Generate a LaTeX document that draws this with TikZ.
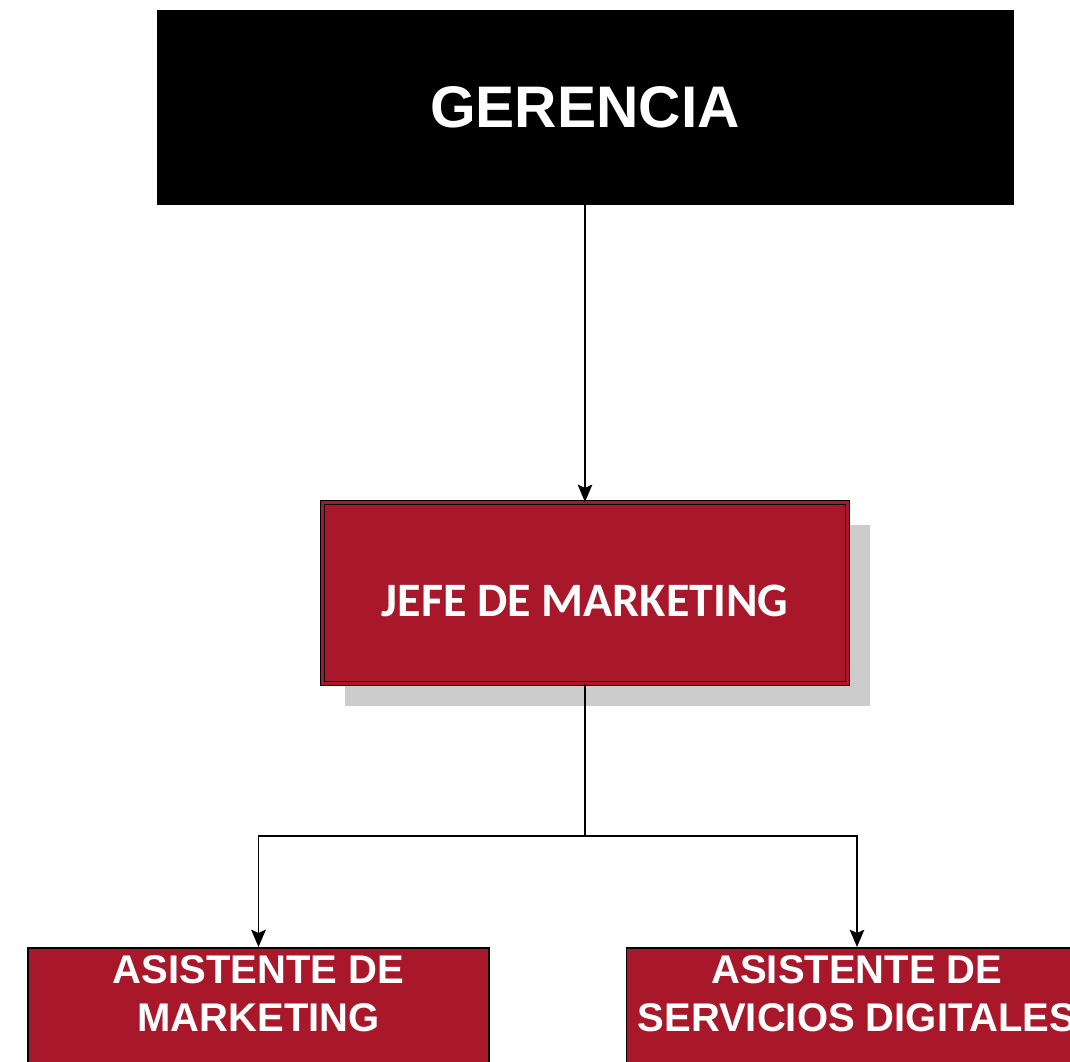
\documentclass[tikz,border=0pt]{standalone}
\usepackage{fontspec}
\setmainfont{Liberation Sans}
\newfontfamily\carlito{Carlito}
\usetikzlibrary{arrows.meta,shadows}
\definecolor{cargo}{HTML}{A8182A}
\tikzstyle{topbox}=[rectangle, fill=black, draw=black
,minimum width=642pt, minimum height=145.5pt
,inner sep=0pt, text=white, font=\bfseries\fontsize{44}{50}\selectfont
]
\tikzstyle{jefebox}=[rectangle, fill=cargo, draw=black, double=cargo
,double distance=2.6pt, line width=0.9pt
,minimum width=393.75pt, minimum height=135.75pt, inner sep=0pt
,drop shadow={shadow xshift=16.5pt, shadow yshift=-16.5pt, fill=black!20, opacity=1}
]
\tikzstyle{asisbox}=[rectangle, fill=cargo, draw=black, line width=1.3pt
,minimum width=345.75pt, minimum height=120pt, inner sep=0pt, anchor=north
]
\tikzstyle{asistext}=[anchor=north, align=center, text=white, inner sep=0pt
,font=\bfseries\fontsize{30}{36}\selectfont
]
\tikzstyle{edge} = [draw, line width=1.2pt, -{Stealth[length=13pt, width=11pt, inset=2.5pt]}]
\tikzstyle{link} = [draw, line width=1.2pt, -]

\begin{document}
\begin{tikzpicture}[x=0.75pt, y=-0.75pt]
    \useasboundingbox (0,0) rectangle (1070,1061);
    % Gerencia and the marketing head
    \node[topbox] (ger) at (585,107) {GERENCIA};
    \node[jefebox] (jefe) at (585,593) {};
    \node[text=white, font=\carlito\bfseries\fontsize{36}{43}\selectfont] (jefeText) at (585,601) {JEFE DE MARKETING};

    % The two assistants
    \foreach \pos/\name in {{(258.5,947)/asisMkt}, {(857,947)/asisDig}}
        \node[asisbox] (\name) at \pos {};
    \node[asistext] (asisMktText) at ([yshift=-6pt]asisMkt.north) {ASISTENTE DE\\MARKETING};
    \node[asistext] (asisDigText) at ([yshift=-6pt]asisDig.north) {ASISTENTE DE\\SERVICIOS DIGITALES};

    % Connect the boxes
    \coordinate (split) at (585,836);
    \path[edge] (ger) -- (jefe);
    \path[link] (jefe) -- (split);
    \foreach \dest in {asisMkt, asisDig}
        \path[edge] (split) -| (\dest.north);
\end{tikzpicture}
\end{document}
